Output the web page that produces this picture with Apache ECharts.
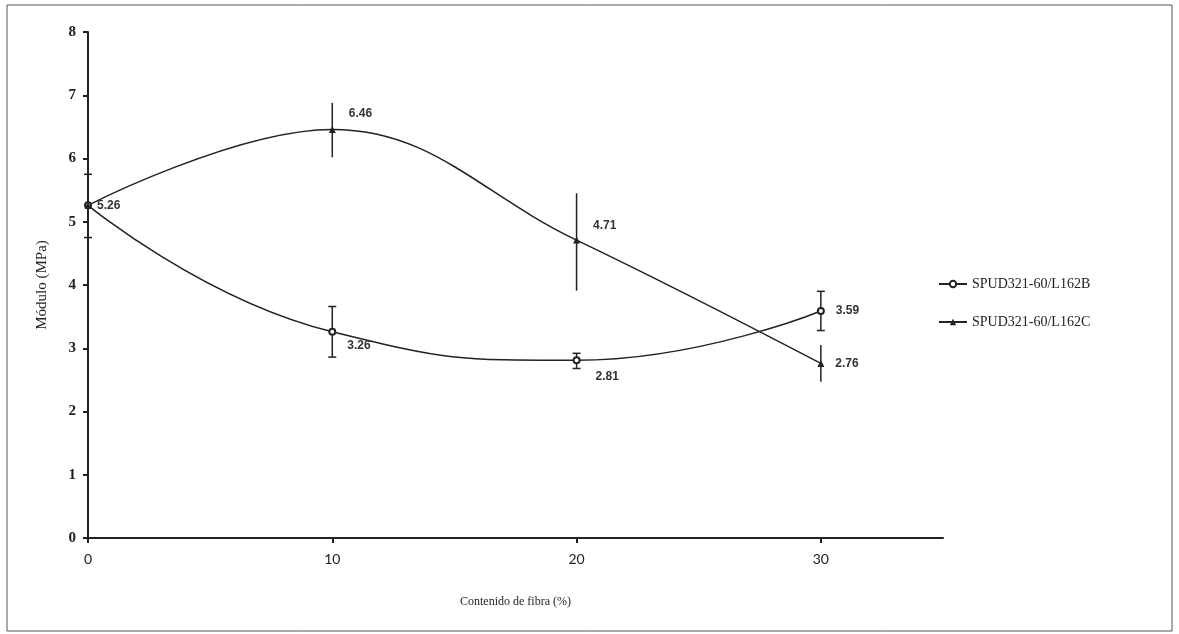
<!DOCTYPE html>
<html><head><meta charset="utf-8">
<script src="https://cdn.jsdelivr.net/npm/echarts@6/dist/echarts.min.js"></script>
<style>html,body{margin:0;padding:0;background:#fff}#c{width:1179px;height:634px}</style>
</head><body><div id="c"></div>
<script>
const fibra = [0, 10, 20, 30];
const xTicks = [0, 10, 20, 30];
const yTicks = [0, 1, 2, 3, 4, 5, 6, 7, 8];
const nameB = 'SPUD321-60/L162B';
const nameC = 'SPUD321-60/L162C';
const valB = [5.26, 3.26, 2.81, 3.59];
const lowB = [4.75, 2.86, 2.68, 3.28];
const highB = [5.75, 3.66, 2.92, 3.90];
const valC = [5.26, 6.46, 4.71, 2.76];
const lowC = [null, 6.02, 3.91, 2.47];
const highC = [null, 6.88, 5.45, 3.05];
const labelsB = ['5.26', '3.26', '2.81', '3.59'];
const labelsC = ['', '6.46', '4.71', '2.76'];

const labOffB = [[0, 0], [6, 14], [10, 16], [6, 0]];
const labOffC = [[0, 0], [8, -16], [8, -14], [6, 0]];

const chart = echarts.init(document.getElementById('c'));
const labelFont = {fontFamily: 'Liberation Sans', fontWeight: 'bold', fontSize: 12, color: '#333'};

function lineData(vals, labs, offs) {
  return vals.map((v, i) => ({
    value: [fibra[i], v],
    label: {show: labs[i] !== '', formatter: labs[i], position: 'right', offset: offs[i], ...labelFont}
  }));
}
function errData(lo, hi) {
  const d = [];
  fibra.forEach((x, i) => { if (lo[i] != null) d.push([x, lo[i], hi[i]]); });
  return d;
}
function errRender(cap) {
  return function (params, api) {
    const x = api.value(0);
    const p1 = api.coord([x, api.value(1)]);
    const p2 = api.coord([x, api.value(2)]);
    const st = {stroke: '#222', lineWidth: 1.5};
    const ch = [{type: 'line', shape: {x1: p1[0], y1: p1[1], x2: p2[0], y2: p2[1]}, style: st}];
    if (cap) {
      ch.push({type: 'line', shape: {x1: p1[0] - 4, y1: p1[1], x2: p1[0] + 4, y2: p1[1]}, style: st});
      ch.push({type: 'line', shape: {x1: p2[0] - 4, y1: p2[1], x2: p2[0] + 4, y2: p2[1]}, style: st});
    }
    return {type: 'group', children: ch};
  };
}

chart.setOption({
  backgroundColor: '#fff',
  animation: false,
  graphic: [{type: 'rect', shape: {x: 7, y: 5, width: 1165, height: 626}, style: {fill: 'none', stroke: '#555', lineWidth: 1}}],
  grid: {left: 88, right: 236, top: 32, bottom: 96},
  legend: {
    orient: 'vertical', left: 933, top: 272, itemGap: 24, itemWidth: 28, itemHeight: 8,
    data: [nameB, nameC],
    textStyle: {fontFamily: 'Liberation Serif', fontSize: 14, color: '#222'}
  },
  xAxis: {
    type: 'value', min: 0, max: 35, interval: 10,
    name: 'Contenido de fibra (%)', nameLocation: 'middle', nameGap: 58,
    nameTextStyle: {fontFamily: 'Liberation Serif', fontSize: 12, color: '#222'},
    axisLine: {lineStyle: {color: '#222', width: 2}},
    axisTick: {show: true, length: 5, customValues: xTicks, lineStyle: {color: '#222', width: 2}},
    axisLabel: {customValues: xTicks, margin: 14, fontFamily: 'Lato', fontSize: 14, color: '#222'},
    splitLine: {show: false}
  },
  yAxis: {
    type: 'value', min: 0, max: 8, interval: 1,
    name: 'Módulo (MPa)', nameLocation: 'middle', nameGap: 38,
    nameTextStyle: {fontFamily: 'Liberation Serif', fontSize: 15, color: '#222'},
    axisLine: {show: true, lineStyle: {color: '#222', width: 2}},
    axisTick: {show: true, inside: false, length: 5, lineStyle: {color: '#222', width: 2}},
    axisLabel: {customValues: yTicks, margin: 12, fontFamily: 'Liberation Serif', fontWeight: 'bold', fontSize: 15, color: '#222'},
    splitLine: {show: false}
  },
  series: [
    {
      name: nameB, type: 'line', smooth: 0.5, data: lineData(valB, labelsB, labOffB),
      symbol: 'emptyCircle', symbolSize: 6,
      lineStyle: {color: '#222', width: 1.5},
      itemStyle: {color: '#222', borderColor: '#222', borderWidth: 1.5},
      z: 3
    },
    {
      name: nameC, type: 'line', smooth: 0.4, data: lineData(valC, labelsC, labOffC),
      symbol: 'triangle', symbolSize: 7,
      lineStyle: {color: '#222', width: 1.5},
      itemStyle: {color: '#222'},
      z: 3
    },
    {type: 'custom', data: errData(lowB, highB), renderItem: errRender(true), encode: {x: 0, y: [1, 2]}, silent: true, z: 2},
    {type: 'custom', data: errData(lowC, highC), renderItem: errRender(false), encode: {x: 0, y: [1, 2]}, silent: true, z: 2}
  ]
});
</script></body></html>
